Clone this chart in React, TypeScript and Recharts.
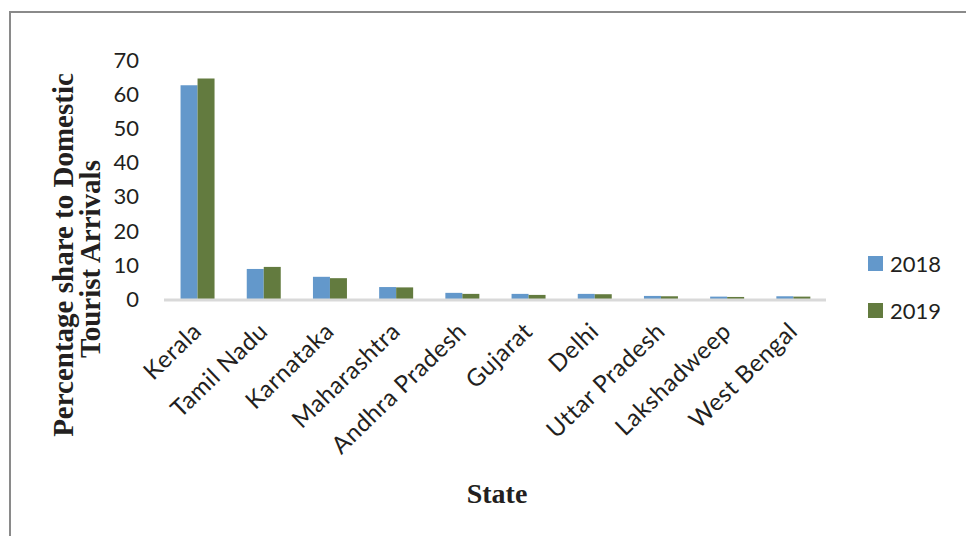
import { BarChart, Bar, XAxis, YAxis, Legend } from "recharts";

const states = [
  "Kerala",
  "Tamil Nadu",
  "Karnataka",
  "Maharashtra",
  "Andhra Pradesh",
  "Gujarat",
  "Delhi",
  "Uttar Pradesh",
  "Lakshadweep",
  "West Bengal",
];
const share2018 = [62.6, 8.8, 6.5, 3.5, 1.8, 1.5, 1.5, 0.9, 0.7, 0.8];
const share2019 = [64.6, 9.4, 6.1, 3.4, 1.5, 1.2, 1.4, 0.8, 0.6, 0.7];
const yTicks = [0, 10, 20, 30, 40, 50, 60, 70];

const data = states.map((state, i) => ({
  state,
  y2018: share2018[i],
  y2019: share2019[i],
}));

const BLUE = "#6398cb";
const GREEN = "#637b3f";
const tickFont = "Lato, 'Open Sans', sans-serif";
const titleFont = "'Liberation Serif', 'DejaVu Serif', serif";

const StateTick = (props: any) => {
  const { x, y, payload } = props;
  return (
    <g transform={`translate(${x + 6},${y + 32})`}>
      <text
        transform="rotate(-44)"
        textAnchor="end"
        fontFamily={tickFont}
        fontSize={24}
        letterSpacing={0.6}
        fill="#231f20"
      >
        {payload.value}
      </text>
    </g>
  );
};

const YTitle = () => (
  <text
    transform="rotate(-90)"
    fontFamily={titleFont}
    fontWeight="bold"
    fontSize={29}
    textAnchor="middle"
    fill="#231f20"
  >
    <tspan x={-255} y={73}>
      Percentage share to Domestic
    </tspan>
    <tspan x={-259} y={100}>
      Tourist Arrivals
    </tspan>
  </text>
);

const XTitle = () => (
  <text
    x={497}
    y={503}
    fontFamily={titleFont}
    fontWeight="bold"
    fontSize={28}
    textAnchor="middle"
    fill="#231f20"
  >
    State
  </text>
);

const YearLegend = () => (
  <div style={{ fontFamily: tickFont, fontSize: 22, color: "#231f20" }}>
    {[
      { name: "2018", color: BLUE },
      { name: "2019", color: GREEN },
    ].map((item) => (
      <div
        key={item.name}
        style={{ display: "flex", alignItems: "center", height: 47 }}
      >
        <span
          style={{
            width: 15,
            height: 15,
            background: item.color,
            marginRight: 7,
            display: "inline-block",
          }}
        />
        <span>{item.name}</span>
      </div>
    ))}
  </div>
);

export default function App() {
  return (
    <div
      style={{
        position: "absolute",
        left: 0,
        top: 0,
        width: 966,
        height: 536,
        overflow: "hidden",
        background: "#fff",
      }}
    >
      <div
        style={{
          position: "absolute",
          left: 9,
          top: 11,
          width: 1000,
          height: 600,
          border: "2px solid #8a8a8a",
        }}
      />
      <BarChart
        width={966}
        height={536}
        data={data}
        margin={{ top: 60, right: 140, left: 0, bottom: 0 }}
        barCategoryGap="25%"
        barGap={0}
      >
        <XAxis
          dataKey="state"
          height={237}
          interval={0}
          tickLine={false}
          tickSize={0}
          axisLine={{ stroke: "#d9d9d9", strokeWidth: 3, transform: "translate(0,1)" }}
          tick={<StateTick />}
          label={{ content: <XTitle /> }}
        />
        <YAxis
          width={164}
          domain={[0, 70]}
          ticks={yTicks}
          interval={0}
          axisLine={false}
          tickLine={false}
          tickSize={0}
          tickMargin={25}
          tick={{ fontFamily: tickFont, fontSize: 22, fill: "#231f20" }}
          label={{ content: <YTitle /> }}
        />
        <Legend
          layout="vertical"
          align="center"
          verticalAlign="middle"
          content={<YearLegend />}
          wrapperStyle={{ left: 868, top: 240, width: 98 }}
        />
        <Bar dataKey="y2018" name="2018" fill={BLUE} isAnimationActive={false} />
        <Bar dataKey="y2019" name="2019" fill={GREEN} isAnimationActive={false} />
      </BarChart>
    </div>
  );
}
